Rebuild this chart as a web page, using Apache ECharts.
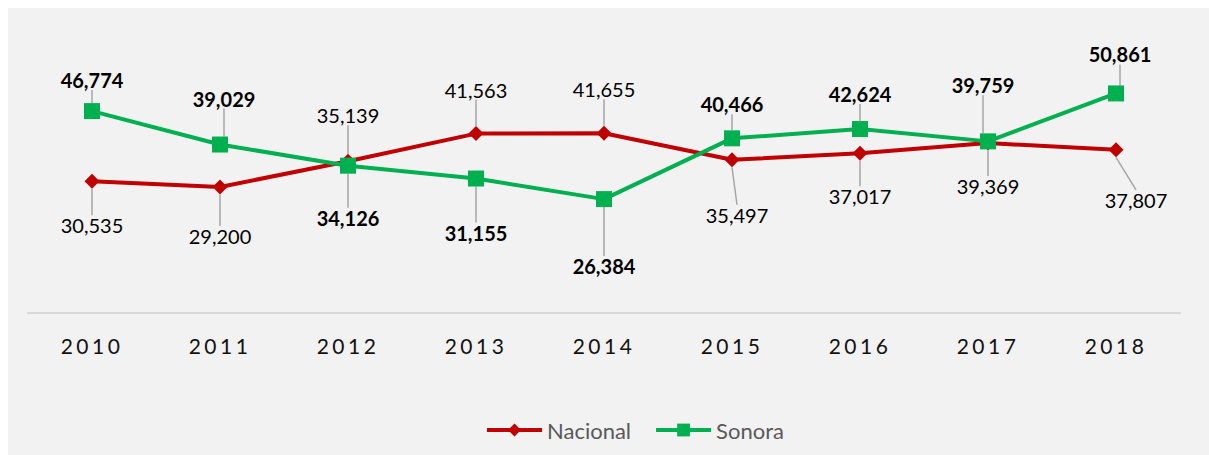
<!DOCTYPE html>
<html>
<head>
<meta charset="utf-8">
<script src="https://cdn.jsdelivr.net/npm/echarts@6/dist/echarts.min.js"></script>
<style>
  html, body { margin: 0; padding: 0; background: #ffffff; }
  #chart { position: absolute; left: 8px; top: 8px; width: 1201px; height: 447px; }
  /* etiquetas del eje x con espaciado entre letras, como en Excel */
  #chart text[style*="21px"] { letter-spacing: 3.5px; }
</style>
</head>
<body>
<div id="chart"></div>
<script>
// datos
const years = ["2010", "2011", "2012", "2013", "2014", "2015", "2016", "2017", "2018"];
const nacional = [30535, 29200, 35139, 41563, 41655, 35497, 37017, 39369, 37807];
const sonora = [46774, 39029, 34126, 31155, 26384, 40466, 42624, 39759, 50861];

// desplazamiento de etiquetas (px) respecto al punto
const nacionalOffset = [[0, 44], [0, 49], [0, -46], [0, -44], [0, -44], [5, 55], [0, 43], [0, 43], [20, 50]];
const sonoraOffset = [[0, -31], [4, -46], [0, 52], [0, 54], [0, 67], [0, -34], [0, -35], [-5, -56], [4, -39]];

const chart = echarts.init(document.getElementById("chart"), null, { renderer: "svg" });
const fmt = (p) => p.value.toLocaleString("en-US");

chart.setOption({
  backgroundColor: "#f2f2f2",
  textStyle: { fontFamily: "Lato, sans-serif" },
  animation: false,
  grid: { left: 20, right: 29, top: 46, bottom: 142 },
  legend: {
    bottom: 9,
    left: 472,
    itemWidth: 55,
    itemHeight: 16,
    itemGap: 23,
    lineStyle: { width: 4 },
    textStyle: { color: "#595959", fontSize: 22 },
    data: ["Nacional", "Sonora"]
  },
  xAxis: {
    type: "category",
    data: years,
    boundaryGap: true,
    axisLine: { lineStyle: { color: "#d9d9d9", width: 2 } },
    axisTick: { show: false },
    axisLabel: { color: "#111", fontSize: 21, margin: 22 }
  },
  yAxis: {
    type: "value",
    min: 0,
    max: 60000,
    show: false,
    splitLine: { show: false }
  },
  series: [
    {
      name: "Nacional",
      type: "line",
      data: nacional,
      color: "#c00000",
      symbol: "diamond",
      symbolSize: 15,
      lineStyle: { width: 4 },
      label: { show: true, position: "inside", formatter: fmt, color: "#000", fontSize: 20 },
      labelLine: { show: true, lineStyle: { color: "#a6a6a6", width: 1.5 } },
      labelLayout: (p) => ({ dx: nacionalOffset[p.dataIndex][0], dy: nacionalOffset[p.dataIndex][1] })
    },
    {
      name: "Sonora",
      type: "line",
      data: sonora,
      color: "#00b050",
      symbol: "rect",
      symbolSize: 16,
      lineStyle: { width: 4 },
      label: { show: true, position: "inside", formatter: fmt, color: "#000", fontSize: 20, fontWeight: "bold" },
      labelLine: { show: true, lineStyle: { color: "#a6a6a6", width: 1.5 } },
      labelLayout: (p) => ({ dx: sonoraOffset[p.dataIndex][0], dy: sonoraOffset[p.dataIndex][1] })
    }
  ]
});
</script>
</body>
</html>
